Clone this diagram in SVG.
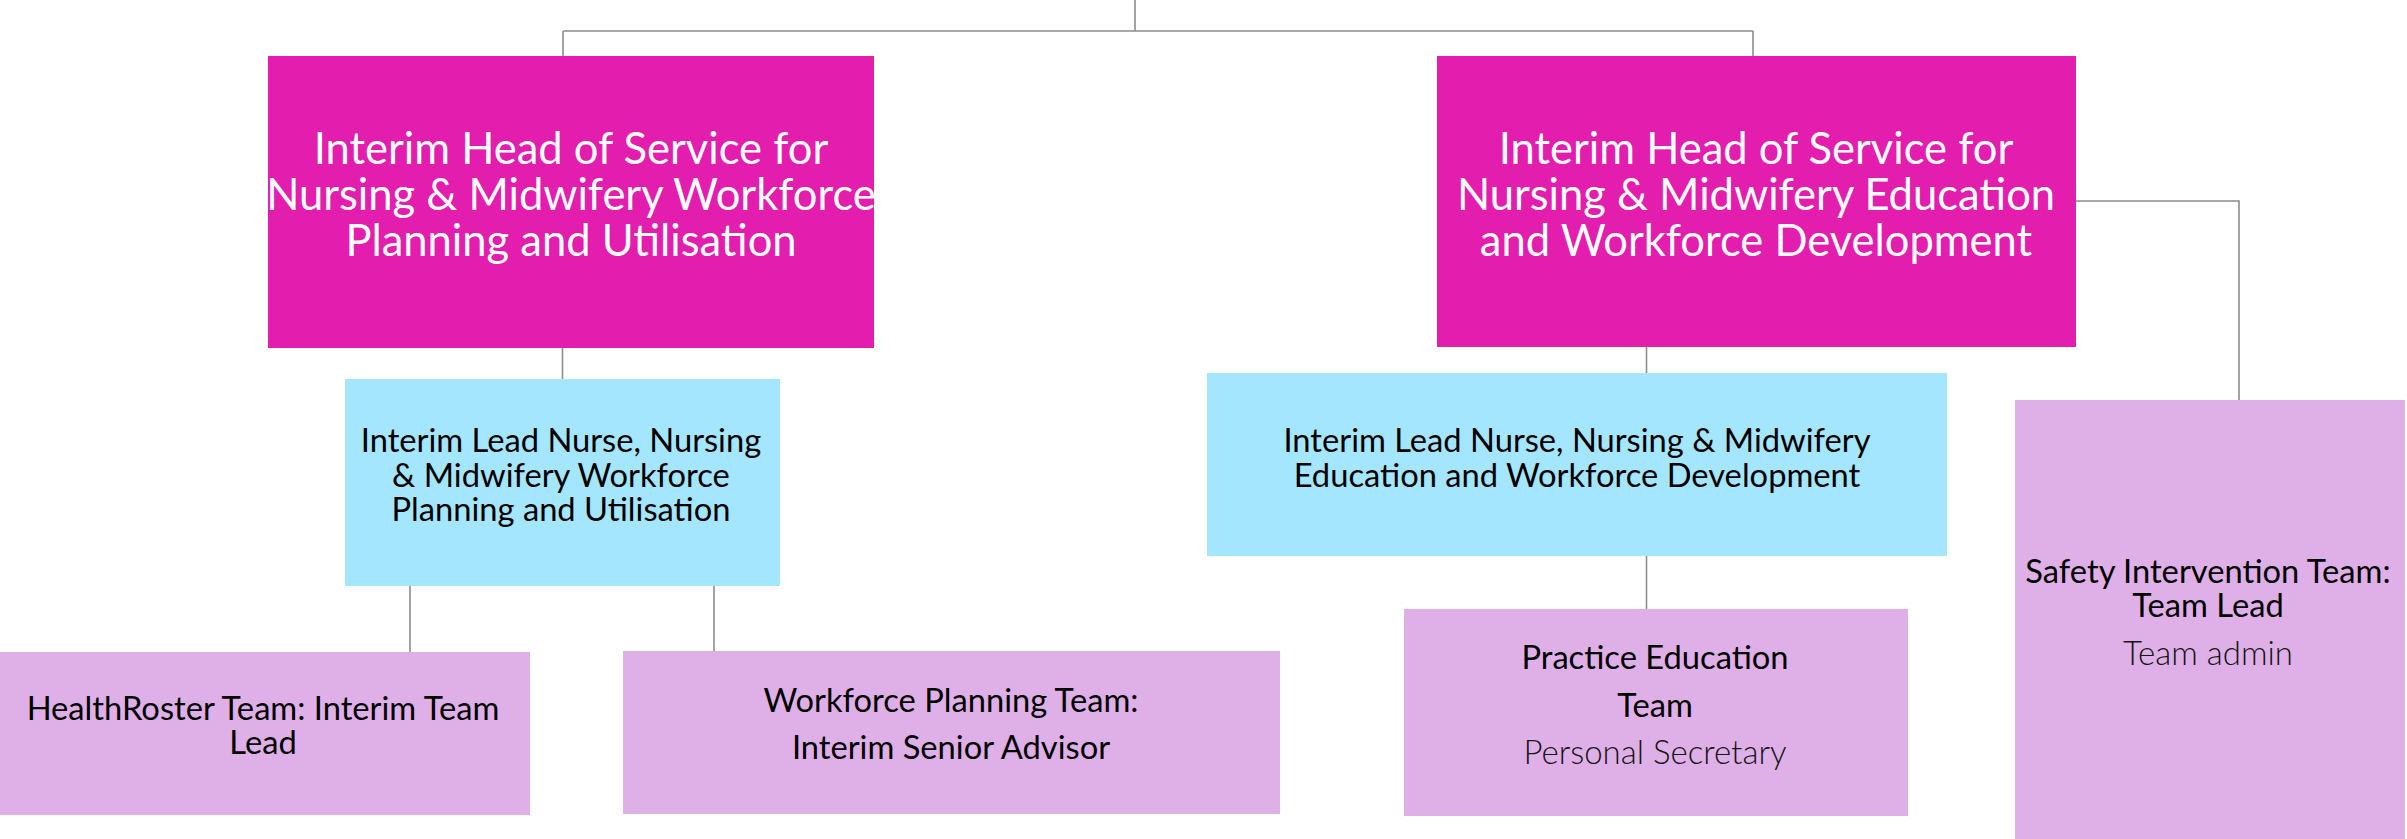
<svg xmlns="http://www.w3.org/2000/svg" width="2407" height="839" viewBox="0 0 2407 839">
<style>
.pink{fill:#E31DAE}
.blue{fill:#A4E6FD}
.lilac{fill:#DFB0E7}
.conn{stroke:#8C8C8C;stroke-width:1.6;fill:none}
text{font-family:Lato,"Noto Sans","Liberation Sans",sans-serif;text-anchor:middle}
.t1{font-size:43.5px;fill:#FFFFFF}
.t2{font-size:32.7px;fill:#000000}
.t3{font-size:33px;fill:#141414;font-weight:300}
</style>
<rect width="2407" height="839" fill="#FFFFFF"/>
<g id="connectors">
<path class="conn" d="M1135,0 V31 M563,31 H1753 M563,31 V56 M1753,31 V56"/>
<path class="conn" d="M562.5,348 V379"/>
<path class="conn" d="M1646.5,347 V373"/>
<path class="conn" d="M2076,201 H2239 V400"/>
<path class="conn" d="M410,586 V652"/>
<path class="conn" d="M714,586 V651"/>
<path class="conn" d="M1646.5,556 V609"/>
</g>
<g id="head-workforce-planning">
<rect class="pink" x="268" y="56" width="606" height="292"/>
<text class="t1" x="571" y="164">Interim Head of Service for</text>
<text class="t1" x="571" y="210">Nursing &amp; Midwifery Workforce</text>
<text class="t1" x="571" y="256">Planning and Utilisation</text>
</g>
<g id="head-education">
<rect class="pink" x="1437" y="56" width="639" height="291"/>
<text class="t1" x="1756" y="164">Interim Head of Service for</text>
<text class="t1" x="1756" y="210">Nursing &amp; Midwifery Education</text>
<text class="t1" x="1756" y="256">and Workforce Development</text>
</g>
<g id="lead-workforce-planning">
<rect class="blue" x="345" y="379" width="435" height="207"/>
<text class="t2" x="561" y="452">Interim Lead Nurse, Nursing</text>
<text class="t2" x="561" y="487">&amp; Midwifery Workforce</text>
<text class="t2" x="561" y="521">Planning and Utilisation</text>
</g>
<g id="lead-education">
<rect class="blue" x="1207" y="373" width="740" height="183"/>
<text class="t2" x="1577" y="452">Interim Lead Nurse, Nursing &amp; Midwifery</text>
<text class="t2" x="1577" y="487">Education and Workforce Development</text>
</g>
<g id="healthroster-team">
<rect class="lilac" x="0" y="652" width="530" height="163"/>
<text class="t2" x="263" y="720">HealthRoster Team: Interim Team</text>
<text class="t2" x="263" y="754">Lead</text>
</g>
<g id="workforce-planning-team">
<rect class="lilac" x="623" y="651" width="657" height="163"/>
<text class="t2" x="951" y="712">Workforce Planning Team:</text>
<text class="t2" x="951" y="759">Interim Senior Advisor</text>
</g>
<g id="practice-education-team">
<rect class="lilac" x="1404" y="609" width="504" height="207"/>
<text class="t2" x="1655" y="669">Practice Education</text>
<text class="t2" x="1655" y="717">Team</text>
<text class="t3" x="1655" y="764">Personal Secretary</text>
</g>
<g id="safety-intervention-team">
<rect class="lilac" x="2015" y="400" width="390" height="439"/>
<text class="t2" x="2208" y="583">Safety Intervention Team:</text>
<text class="t2" x="2208" y="617">Team Lead</text>
<text class="t3" x="2208" y="665">Team admin</text>
</g>
</svg>
